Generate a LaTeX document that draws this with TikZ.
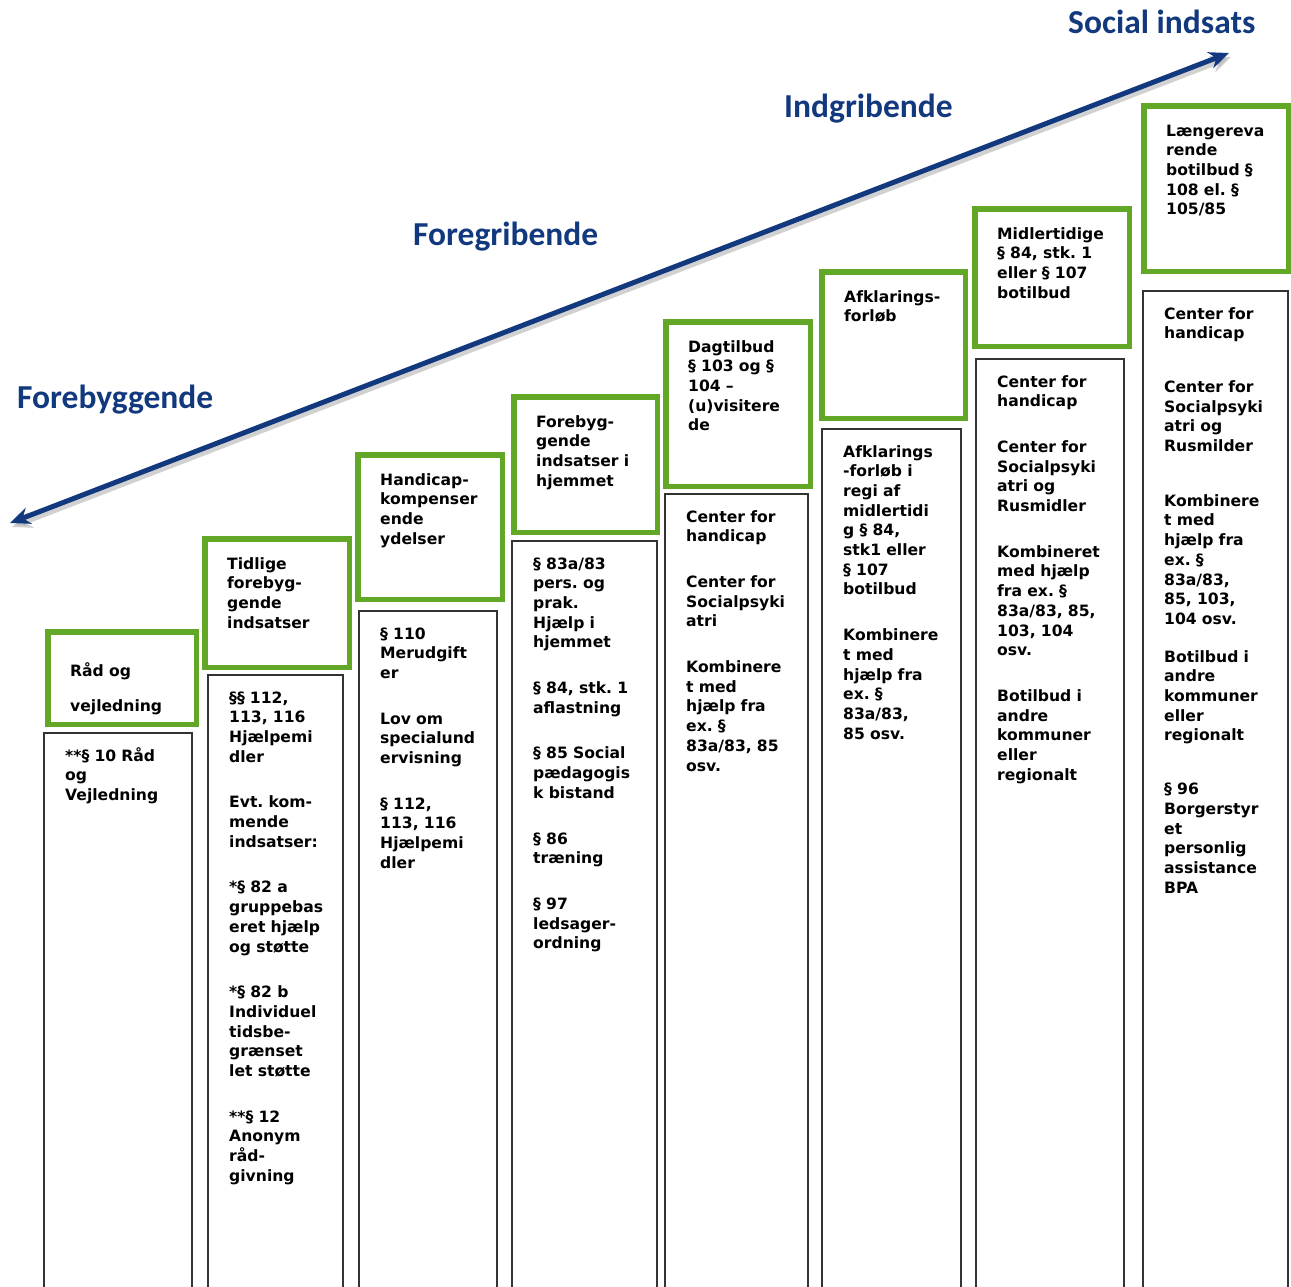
\documentclass[tikz,border=0pt]{standalone}
\usepackage{fontspec}
\setmainfont{DejaVu Sans}
\newfontfamily\headfont{Carlito}
\usetikzlibrary{arrows.meta}
\definecolor{stepblue}{RGB}{18,57,126}
\definecolor{stepgreen}{RGB}{98,167,37}
\begin{document}
\begin{tikzpicture}[x=1pt, y=-1pt]
	% Styles
	\tikzstyle{stagebox}=[draw=stepgreen, line width=5.5pt, anchor=north west, inner sep=0pt, outer sep=0pt]
	\tikzstyle{listbox}=[draw=black!80, line width=1.3pt, anchor=north west, inner sep=0pt, outer sep=0pt]
	\tikzstyle{boxtext}=[anchor=base west, inner sep=0pt, text width=150pt, align=left, font=\frenchspacing\bfseries\fontsize{15.6}{19.7}\selectfont]
	\tikzstyle{heading}=[anchor=base west, inner sep=0pt, text=stepblue, font=\headfont\bfseries\fontsize{33.5}{40}\selectfont]
	\tikzstyle{bothtips}=[{Stealth[length=20pt,width=17pt]}-{Stealth[length=20pt,width=17pt]}]

	\useasboundingbox (0,0) rectangle (1291,1286);

	% Arrow from Forebyggende to Social indsats
	\coordinate (lo) at (10,523);
	\coordinate (hi) at (1229,53);
	\draw[black!30, opacity=0.6, line width=5pt, bothtips] ([shift={(2,4)}]lo) -- ([shift={(2,4)}]hi);
	\draw[stepblue, line width=5pt, bothtips] (lo) -- (hi);

	% Headings
	\node[heading] (h1) at (17,408) {Forebyggende};
	\node[heading] (h2) at (413,245) {Foregribende};
	\node[heading] (h3) at (784,117) {Indgribende};
	\node[heading] (h4) at (1068,33) {Social indsats};

	% Green boxes (outer edges)
	\foreach \name/\x/\y/\w/\h/\dy/\txt in {
		g1/45/629/154/98/47.7/{Råd og\\[15.3pt]vejledning},
		g2/202/536/150/134/33/{Tidlige\\forebyg-\\gende\\indsatser},
		g3/355/452/150/150/33/{Handicap-\\kompenser\\ende\\ydelser},
		g4/511/394/149/141/33/{Forebyg-\\gende\\indsatser i\\hjemmet},
		g5/663/319/150/170/33/{Dagtilbud\\§ 103 og §\\104 –\\(u)visitere\\de},
		g6/819/269/149/152/33/{Afklarings-\\forløb},
		g7/972/206/160/143/33/{Midlertidige\\§ 84, stk. 1\\eller § 107\\botilbud},
		g8/1141/103/150/171/33/{Længereva\\rende\\botilbud §\\108 el. §\\105/85}}
	{
		\node[stagebox, minimum width=\w-5.5, minimum height=\h-5.5] (\name) at (\x+2.75,\y+2.75) {};
		\node[boxtext] (\name-t) at (\x+25,\y+\dy) {\txt};
	}

	% Columns below the boxes
	\foreach \name/\x/\y/\w/\txt in {
		c1/44/733/148/{**§ 10 Råd\\og\\Vejledning},
		c2/208/675/135/{§§ 112,\\113, 116\\Hjælpemi\\dler\\[26pt]Evt. kom-\\mende\\indsatser:\\[26pt]*§ 82 a\\gruppebas\\eret hjælp\\og støtte\\[26pt]*§ 82 b\\Individuel\\tidsbe-\\grænset\\let støtte\\[26pt]**§ 12\\Anonym\\råd-\\givning},
		c3/359/611/138/{§ 110\\Merudgift\\er\\[26pt]Lov om\\specialund\\ervisning\\[26pt]§ 112,\\113, 116\\Hjælpemi\\dler},
		c4/512/541/145/{§ 83a/83\\pers. og\\prak.\\Hjælp i\\hjemmet\\[26pt]§ 84, stk. 1\\aflastning\\[26pt]§ 85 Social\\pædagogis\\k bistand\\[26pt]§ 86\\træning\\[26pt]§ 97\\ledsager-\\ordning},
		c5/665/494/143/{Center for\\handicap\\[26pt]Center for\\Socialpsyki\\atri\\[26pt]Kombinere\\t med\\hjælp fra\\ex. §\\83a/83, 85\\osv.},
		c6/822/429/139/{Afklarings\\-forløb i\\regi af\\midlertidi\\g § 84,\\stk1 eller\\§ 107\\botilbud\\[26pt]Kombinere\\t med\\hjælp fra\\ex. §\\83a/83,\\85 osv.},
		c7/976/359/148/{Center for\\handicap\\[26pt]Center for\\Socialpsyki\\atri og\\Rusmidler\\[26pt]Kombineret\\med hjælp\\fra ex. §\\83a/83, 85,\\103, 104\\osv.\\[26pt]Botilbud i\\andre\\kommuner\\eller\\regionalt},
		c8/1143/291/145/{Center for\\handicap\\[34pt]Center for\\Socialpsyki\\atri og\\Rusmilder\\[35pt]Kombinere\\t med\\hjælp fra\\ex. §\\83a/83,\\85, 103,\\104 osv.\\[18pt]Botilbud i\\andre\\kommuner\\eller\\regionalt\\[34pt]§ 96\\Borgerstyr\\et\\personlig\\assistance\\BPA}}
	{
		\node[listbox, minimum width=\w, minimum height=1300-\y] (\name) at (\x,\y) {};
		\node[boxtext] (\name-t) at (\x+21,\y+28) {\txt};
	}
\end{tikzpicture}
\end{document}
